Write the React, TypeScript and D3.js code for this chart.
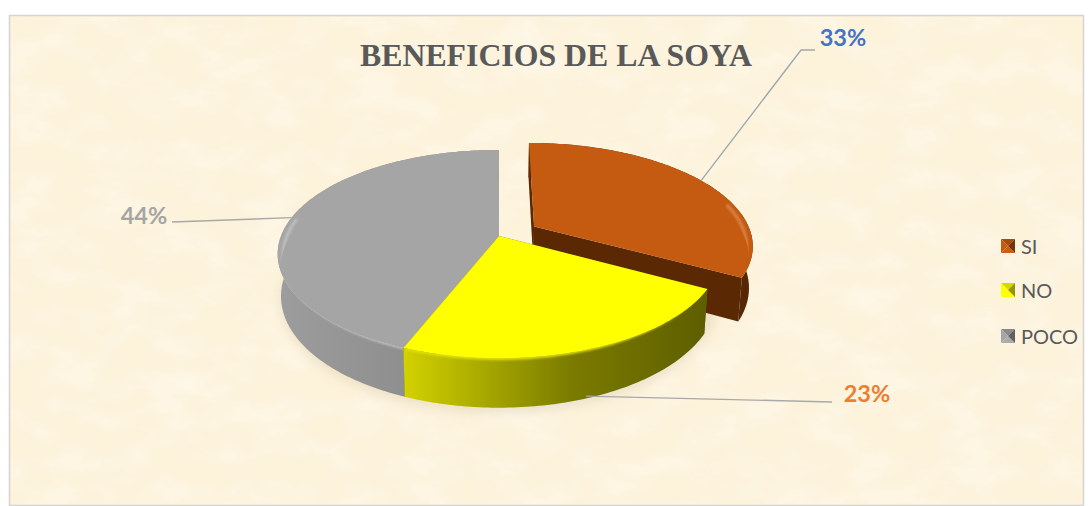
import React from "react";
import * as d3 from "d3";

const categories = ["SI", "NO", "POCO"];
const shares = [33, 23, 44];
const labelTexts = ["33%", "23%", "44%"];
const titleText = "BENEFICIOS DE LA SOYA";

const W = 1091, H = 506;
const topColors = ["#c55a11", "#ffff00", "#a5a5a5"];
const rimStops = [
  ["#5f2c06", "#562705"],
  ["#d2d200", "#5e5e00"],
  ["#9d9d9d", "#8a8a8a"],
];
const wallColors = ["#5a2803", "#6a6a00", "#8a8a8a"];
const bevelColors = ["#d98445", "#e4e400", "#c0c0c0"];
const labelColors = ["#4472c4", "#ed7d31", "#a5a5a5"];
const leaderColors = ["#9fa8b2", "#a9a9a9", "#a9a9a9"];
const explode = [0.19, 0, 0];
const legendY = [246, 290, 336];
const leaderEnds: [number, number][][] = [[[801, 50], [815, 50]], [[832, 402]], [[172, 222]]];
const labelPos: [number, number][] = [[843, 37], [867, 393], [144, 215]];

const cx = 499, cy = 236, Rx = 218, Ry = 101, persp = 0.173, depth = 41;

const pie = d3.pie<number>().sort(null).value((d) => d);
const arcs = pie(shares);

function project(th: number, r: number, z: number, e: number, mid: number): [number, number] {
  const X = r * Math.sin(th) + e * Math.sin(mid);
  const Y = r * Math.cos(th) + e * Math.cos(mid);
  const s = 1 / (1 + persp * Y);
  const xs = z > 0 ? 0.985 : 1;
  return [cx + Rx * X * s * xs, cy - Ry * Y * s + z * s];
}
const line = d3.line<[number, number]>().curve(d3.curveLinear);

function arcPts(a0: number, a1: number, r: number, z: number, e: number, mid: number) {
  const n = Math.max(8, Math.ceil((a1 - a0) * 60));
  return d3.range(n + 1).map((i) => project(d3.interpolateNumber(a0, a1)(i / n), r, z, e, mid));
}

// The bevel highlight only shows on the part of the rim that faces the viewer.
function frontRange(a0: number, a1: number): [number, number] | null {
  const f0 = Math.PI * 0.42, f1 = Math.PI * 1.56;
  const lo = Math.max(a0, f0), hi = Math.min(a1, f1);
  return lo < hi ? [lo, hi] : null;
}

function Slice({ i }: { i: number }) {
  const a = arcs[i];
  const e = explode[i];
  const mid = (a.startAngle + a.endAngle) / 2;
  const top = [project(0, 0, 0, e, mid), ...arcPts(a.startAngle, a.endAngle, 1, 0, e, mid)];
  const rimT = arcPts(a.startAngle, a.endAngle, 1, 0, e, mid);
  const rimB = arcPts(a.startAngle, a.endAngle, 1, depth, e, mid);
  const wall = (th: number) => [
    project(0, 0, 0, e, mid),
    project(th, 1, 0, e, mid),
    project(th, 1, depth, e, mid),
    project(0, 0, depth, e, mid),
  ];
  const fr = frontRange(a.startAngle, a.endAngle);
  const bevel = fr ? arcPts(fr[0], fr[1], 0.99, 1.5, e, mid) : null;
  const clipId = `top-clip-${i}`;
  return (
    <g>
      <path d={line(wall(a.startAngle))! + "Z"} fill={wallColors[i]} />
      <path d={line(wall(a.endAngle))! + "Z"} fill={wallColors[i]} />
      <path d={line([...rimT, ...rimB.slice().reverse()])! + "Z"} fill={`url(#rim-${i})`} />
      <path d={line(top)! + "Z"} fill={topColors[i]} />
      <clipPath id={clipId}>
        <path d={line([...rimT, ...arcPts(a.startAngle, a.endAngle, 1, 12, e, mid).reverse()])! + "Z"} />
      </clipPath>
      {bevel && (
        <g clipPath={`url(#${clipId})`}>
          <path d={line(bevel)!} fill="none" stroke={bevelColors[i]} strokeWidth={3} filter="url(#soft)" />
        </g>
      )}
    </g>
  );
}

function LegendKey({ i, y }: { i: number; y: number }) {
  const s = 14, x = 1001, t = y - 7;
  const c = topColors[i];
  const dark = d3.color(c)!.darker(1.5).formatHex();
  const mid = d3.color(c)!.darker(0.5).formatHex();
  const lite = d3.color(c)!.brighter(0.1).formatHex();
  const m: [number, number] = [x + s / 2, t + s / 2];
  return (
    <g>
      <path d={line([[x, t], [x + s, t], m])! + "Z"} fill={mid} />
      <path d={line([[x, t + s], [x + s, t + s], m])! + "Z"} fill={lite} />
      <path d={line([[x, t], [x, t + s], m])! + "Z"} fill={c} />
      <path d={line([[x + s, t], [x + s, t + s], m])! + "Z"} fill={dark} />
    </g>
  );
}

export default function App() {
  const rimExtent = arcs.map((a, i) => {
    const mid = (a.startAngle + a.endAngle) / 2;
    const xs = arcPts(a.startAngle, a.endAngle, 1, 0, explode[i], mid).map((p) => p[0]);
    return d3.extent(xs) as [number, number];
  });
  const shadowPts = arcPts(Math.PI * 0.45, Math.PI * 1.55, 1, depth + 4, 0, 0);
  return (
    <svg width={W} height={H} viewBox={`0 0 ${W} ${H}`} style={{ position: "absolute", left: 0, top: 0, display: "block" }}>
      <defs>
        <filter id="paper" x="0" y="0" width="100%" height="100%">
          <feTurbulence type="fractalNoise" baseFrequency="0.02 0.035" numOctaves={4} seed={7} result="n" />
          <feColorMatrix in="n" type="matrix" values="0 0 0 0 1  0 0 0 0 0.98  0 0 0 0 0.92  0.9 0 0 0 -0.32" />
        </filter>
        <filter id="soft" x="-10%" y="-10%" width="120%" height="120%">
          <feGaussianBlur stdDeviation={1} />
        </filter>
        <filter id="shadow" x="-20%" y="-20%" width="140%" height="140%">
          <feGaussianBlur stdDeviation={6} />
        </filter>
        {rimStops.map((st, i) => (
          <linearGradient key={i} id={`rim-${i}`} gradientUnits="userSpaceOnUse" x1={rimExtent[i][0]} x2={rimExtent[i][1]} y1={0} y2={0}>
            <stop offset={0} stopColor={st[0]} />
            <stop offset={0.55} stopColor={d3.interpolateRgb(st[0], st[1])(0.75)} />
            <stop offset={1} stopColor={st[1]} />
          </linearGradient>
        ))}
      </defs>
      <rect x={0} y={0} width={W} height={H} fill="#ffffff" />
      <rect x={9.5} y={15.5} width={1074} height={490} fill="#fdf2da" stroke="#d4d4d4" strokeWidth={1.5} />
      <rect x={11} y={17} width={1071} height={487} filter="url(#paper)" />

      <path d={line(shadowPts)! + "Z"} fill="#c4b594" opacity={0.3} filter="url(#shadow)" />
      <Slice i={0} />
      <Slice i={2} />
      <Slice i={1} />

      {arcs.map((a, i) => {
        const mid = (a.startAngle + a.endAngle) / 2;
        const z = i === 1 ? depth - 2 : 0;
        const start = project(mid, 1, z, explode[i], mid);
        return (
          <path key={i} d={line([start, ...leaderEnds[i]])!} fill="none" stroke={leaderColors[i]} strokeWidth={1.4} />
        );
      })}
      {labelTexts.map((t, i) => (
        <text key={t} x={labelPos[i][0]} y={labelPos[i][1]} textAnchor="middle" dominantBaseline="central"
          fontFamily="Lato, 'Open Sans', sans-serif" fontWeight={700} fontSize={23.5} fill={labelColors[i]}>
          {t}
        </text>
      ))}
      <text x={556} y={55} textAnchor="middle" dominantBaseline="central" fontFamily="'Liberation Serif', serif"
        fontWeight={700} fontSize={31.8} fill="#595959">
        {titleText}
      </text>
      {categories.map((c, i) => (
        <g key={c}>
          <LegendKey i={i} y={legendY[i]} />
          <text x={1021} y={legendY[i]} dominantBaseline="central" fontFamily="Lato, 'Open Sans', sans-serif" fontSize={20} fill="#595959">
            {c}
          </text>
        </g>
      ))}
    </svg>
  );
}
